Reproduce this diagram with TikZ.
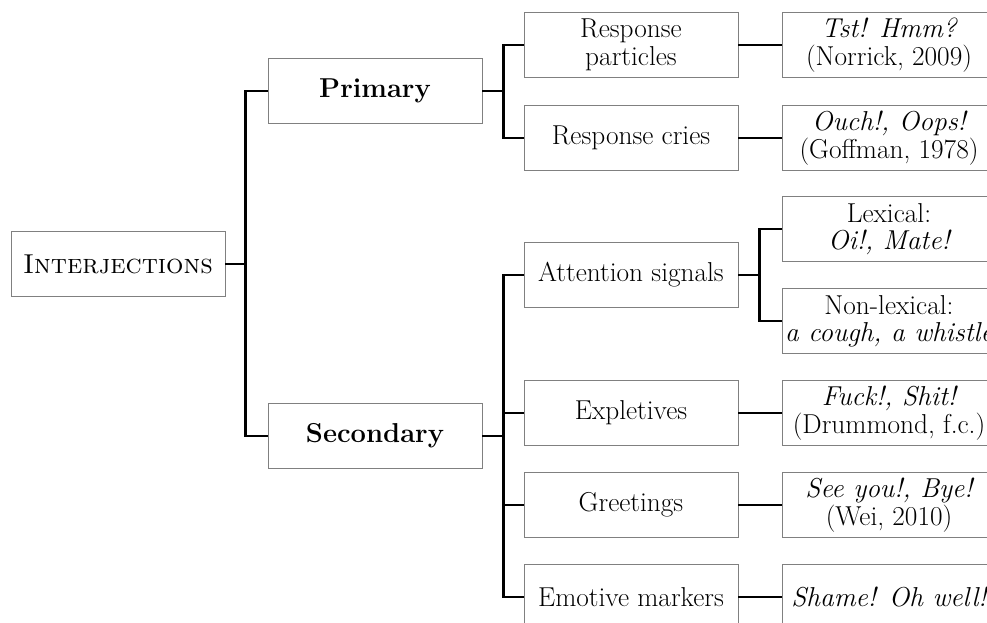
\documentclass[tikz,border=0pt]{standalone}
\usepackage{fontspec}
\begin{document}
\begin{tikzpicture}[x=0.75pt,y=-0.75pt,
  box/.style={draw=black!50, line width=0.6pt, rectangle, minimum width=160.5pt,
    minimum height=48.75pt, inner sep=0pt, align=center,
    font=\fontsize{20.5}{20.5}\selectfont},
  link/.style={line width=2pt}]
\useasboundingbox (0,0) rectangle (987,623);
\clip (0,0) rectangle (987,623);
% first two levels
\node[box] (root) at (118,264) {\textsc{Interjections}};
\node[box] (prim) at (375,91) {\bfseries Primary};
\node[box] (sec) at (375,436) {\bfseries Secondary};
% types
\node[box] (rp) at (631,45) {Response\\particles};
\node[box] (rc) at (631,138) {Response cries};
\node[box] (att) at (631,275) {Attention signals};
\node[box] (exp) at (631,413) {Expletives};
\node[box] (gre) at (631,505) {Greetings};
\node[box] (emo) at (631,597) {Emotive markers};
% examples
\node[box] (tst) at (889,45) {\itshape Tst! Hmm?\\(Norrick, 2009)};
\node[box] (ouch) at (889,138) {\itshape Ouch!, Oops!\\(Goffman, 1978)};
\node[box] (lex) at (889,229) {Lexical:\\\itshape Oi!, Mate!};
\node[box] (nlex) at (889,321) {Non-lexical:\\\itshape a cough, a whistle};
\node[box] (fuck) at (889,413) {\itshape Fuck!, Shit!\\(Drummond, f.c.)};
\node[box] (see) at (889,505) {\itshape See you!, Bye!\\(Wei, 2010)};
\node[box] (shame) at (889,597) {\itshape Shame! Oh well!};
% connectors
\draw[link] (root.east) -- ++(20,0) |- (prim.west);
\draw[link] (root.east) -- ++(20,0) |- (sec.west);
\draw[link] (prim.east) -- ++(21,0) |- (rp.west);
\draw[link] (prim.east) -- ++(21,0) |- (rc.west);
\draw[link] (sec.east) -- ++(21,0) |- (att.west);
\draw[link] (sec.east) -- ++(21,0) |- (exp.west);
\draw[link] (sec.east) -- ++(21,0) |- (gre.west);
\draw[link] (sec.east) -- ++(21,0) |- (emo.west);
\draw[link] (att.east) -- ++(21,0) |- (lex.west);
\draw[link] (att.east) -- ++(21,0) |- (nlex.west);
\draw[link] (rp) -- (tst);
\draw[link] (rc) -- (ouch);
\draw[link] (exp) -- (fuck);
\draw[link] (gre) -- (see);
\draw[link] (emo) -- (shame);
\end{tikzpicture}
\end{document}
